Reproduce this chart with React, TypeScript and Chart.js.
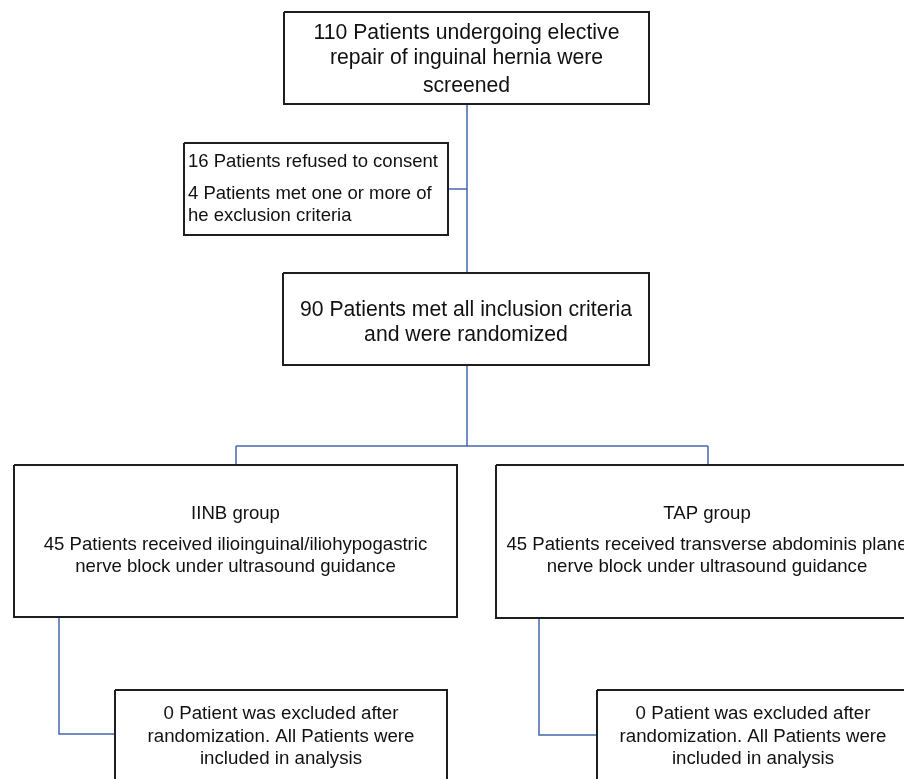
import React, { useEffect, useRef } from "react";
import { Chart, registerables } from "chart.js";

Chart.register(...registerables);

// ---- Flow content ----
const boxTexts: string[][] = [
  ["110 Patients undergoing elective", "repair of inguinal hernia were", "screened"],
  ["16 Patients refused to consent", "4 Patients met one or more of", "he exclusion criteria"],
  ["90 Patients met all inclusion criteria", "and were randomized"],
  ["IINB group", "45 Patients received ilioinguinal/iliohypogastric", "nerve block under ultrasound guidance"],
  ["TAP group", "45 Patients received transverse abdominis plane", "nerve block under ultrasound guidance"],
  ["0 Patient was excluded after", "randomization. All Patients were", "included in analysis"],
  ["0 Patient was excluded after", "randomization. All Patients were", "included in analysis"],
];

// ---- Layout (canvas units) ----
const boxLeft = [284, 184, 283, 14, 496, 115, 597];
const boxRight = [649, 448, 649, 457, 918, 447, 909];
const boxTop = [12, 143, 273, 465, 465, 690, 690];
const boxBottom = [104, 235, 365, 617, 618, 790, 790];
const boxAlign: ("center" | "left")[] = ["center", "left", "center", "center", "center", "center", "center"];
const boxFont = [21.2, 18.5, 21.2, 18.6, 18.6, 18.7, 18.7];
const lineY: number[][] = [
  [33, 58, 86],
  [162, 194, 216],
  [310, 335],
  [514, 545, 567],
  [514, 545, 567],
  [714, 737, 759],
  [714, 737, 759],
];

const connectors: { x: number; y: number }[][] = [
  [{ x: 467, y: 104 }, { x: 467, y: 273 }],
  [{ x: 448, y: 189 }, { x: 467, y: 189 }],
  [{ x: 467, y: 365 }, { x: 467, y: 446 }],
  [{ x: 236, y: 446 }, { x: 708, y: 446 }],
  [{ x: 236, y: 446 }, { x: 236, y: 465 }],
  [{ x: 708, y: 446 }, { x: 708, y: 465 }],
  [{ x: 59, y: 617 }, { x: 59, y: 734 }, { x: 115, y: 734 }],
  [{ x: 539, y: 618 }, { x: 539, y: 735 }, { x: 597, y: 735 }],
];

const W = 904;
const H = 779;

const textPlugin = {
  id: "boxText",
  afterDatasetsDraw(chart: any) {
    const { ctx, scales } = chart;
    const xs = scales.x;
    const ys = scales.y;
    ctx.save();
    ctx.fillStyle = "#111111";
    ctx.textBaseline = "middle";
    boxTexts.forEach((lines, i) => {
      ctx.font = `${boxFont[i]}px "Liberation Sans", Arial, sans-serif`;
      ctx.textAlign = boxAlign[i];
      const x =
        boxAlign[i] === "left"
          ? xs.getPixelForValue(boxLeft[i] + 4)
          : xs.getPixelForValue((boxLeft[i] + boxRight[i]) / 2);
      lines.forEach((t, j) => {
        ctx.fillText(t, x, ys.getPixelForValue(lineY[i][j]));
      });
    });
    ctx.restore();
  },
};

export default function App() {
  const ref = useRef<HTMLCanvasElement | null>(null);
  useEffect(() => {
    if (!ref.current) return;
    const boxDatasets = boxLeft.map((l, i) => ({
      data: [
        { x: l, y: boxTop[i] },
        { x: boxRight[i], y: boxTop[i] },
        { x: boxRight[i], y: boxBottom[i] },
        { x: l, y: boxBottom[i] },
        { x: l, y: boxTop[i] },
      ],
      showLine: true,
      borderColor: "#1e1e1e",
      borderWidth: 2,
      pointRadius: 0,
      fill: false,
      tension: 0,
      clip: false as any,
    }));
    const connDatasets = connectors.map((pts) => ({
      data: pts,
      showLine: true,
      borderColor: "#4466ad",
      borderWidth: 1.5,
      pointRadius: 0,
      fill: false,
      tension: 0,
      clip: false as any,
    }));
    const chart = new Chart(ref.current, {
      type: "scatter",
      data: { datasets: [...boxDatasets, ...connDatasets] as any },
      options: {
        animation: false,
        responsive: true,
        maintainAspectRatio: false,
        layout: { padding: 0 },
        plugins: { legend: { display: false }, tooltip: { enabled: false } },
        events: [],
        scales: {
          x: { type: "linear", min: 0, max: W, display: false },
          y: { type: "linear", min: 0, max: H, reverse: true, display: false },
        },
      },
      plugins: [textPlugin],
    });
    return () => chart.destroy();
  }, []);
  return (
    <div style={{ position: "absolute", left: 0, top: 0, width: W, height: H, background: "#ffffff" }}>
      <canvas ref={ref} />
    </div>
  );
}
